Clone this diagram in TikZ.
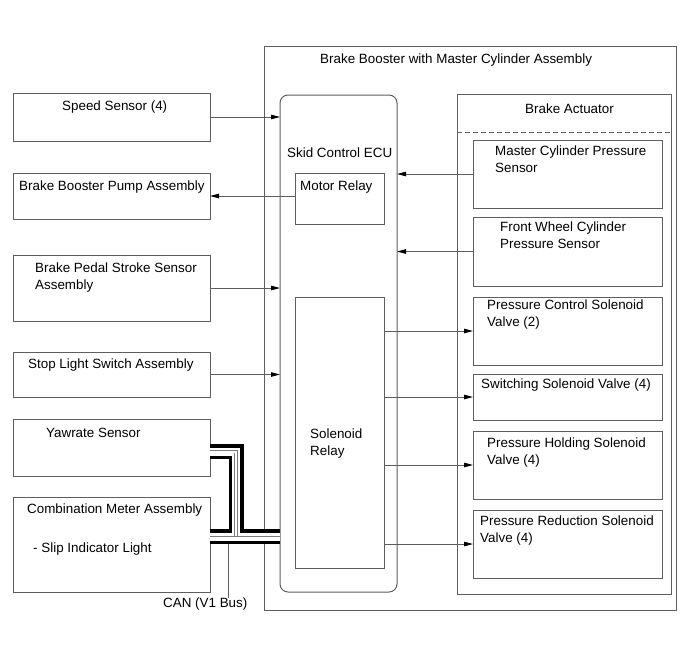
\documentclass[tikz,border=0pt]{standalone}
\usepackage{fontspec}
\setmainfont{Liberation Sans}
\usetikzlibrary{arrows.meta}
\definecolor{wdline}{HTML}{5E5E5E}
\definecolor{wdwire}{HTML}{7A7A7A}
\tikzset{
  unit/.style={draw=wdline,line width=1pt,anchor=north west,inner sep=0pt,outer sep=0pt},
  ecu/.style={unit,rounded corners=8pt},
  note/.style={anchor=north west,inner sep=0pt,align=left,font=\fontsize{13.4}{16.5}\selectfont,text=black},
  sig/.style={-{Triangle[length=9pt,width=4.5pt,color=black]},draw=wdline,line width=.9pt},
  canbk/.style={draw=black,line width=15pt,line join=miter},
  canwt/.style={draw=white,line width=8pt,line join=miter},
  canmid/.style={draw=wdwire,line width=.8pt},
  cantwin/.style={draw=wdwire,line width=.7pt,double=white,double distance=2pt,line join=miter},
}

\begin{document}
\begin{tikzpicture}[x=1pt,y=-1pt]
  \useasboundingbox (0,0) rectangle (690,659);

  % ---- brake booster housing ----
  \node[unit,minimum width=412pt,minimum height=564pt] (bbmc) at (264,46) {};
  \node[note] (bbmctxt) at (320,54) {Brake Booster with Master Cylinder Assembly};

  % ---- skid control ECU ----
  \node[ecu,minimum width=117pt,minimum height=497pt] (ecu) at (280,95) {};
  \node[note] (ecutxt) at (287,148) {Skid Control ECU};
  \node[unit,minimum width=89pt,minimum height=51pt] (motor) at (295,173) {};
  \node[note] (motortxt) at (300,181) {Motor Relay};
  \node[unit,minimum width=89pt,minimum height=271pt] (solrel) at (295,297) {};
  \node[note] (solreltxt) at (310,429) {Solenoid\\Relay};

  % ---- brake actuator ----
  \node[unit,minimum width=214pt,minimum height=500pt] (act) at (457,94) {};
  \node[note] (acttxt) at (525,104) {Brake Actuator};
  \draw[wdline,line width=1pt,dash pattern=on 5pt off 3pt]
    ([yshift=-38pt]act.north west) -- ([yshift=-38pt]act.north east);
  \foreach \n/\y/\h in {mcps/140/68, fwcps/217/69, pcsv/297/68, ssv/374/46, phsv/431/68, prsv/510/68}
    \node[unit,minimum width=189pt,minimum height=\h pt] (\n) at (473,\y) {};
  \node[note] (mcpstxt) at (495,146) {Master Cylinder Pressure\\Sensor};
  \node[note] (fwcpstxt) at (500,222) {Front Wheel Cylinder\\Pressure Sensor};
  \node[note] (pcsvtxt) at (487,300) {Pressure Control Solenoid\\Valve (2)};
  \node[note] (ssvtxt) at (481,379) {Switching Solenoid Valve (4)};
  \node[note] (phsvtxt) at (487,438) {Pressure Holding Solenoid\\Valve (4)};
  \node[note] (prsvtxt) at (480,516) {Pressure Reduction Solenoid\\Valve (4)};

  % ---- outside units ----
  \foreach \n/\y/\h in {speed/93/48, pump/173/46, pedal/255/66, stop/352/45, yaw/419/57, meter/497/95}
    \node[unit,minimum width=197pt,minimum height=\h pt] (\n) at (13,\y) {};
  \node[note] (speedtxt) at (62,101) {Speed Sensor (4)};
  \node[note] (pumptxt) at (19,181) {Brake Booster Pump Assembly};
  \node[note] (pedaltxt) at (35,263) {Brake Pedal Stroke Sensor\\Assembly};
  \node[note] (stoptxt) at (28,359) {Stop Light Switch Assembly};
  \node[note] (yawtxt) at (46,428) {Yawrate Sensor};
  \node[note] (metertxt) at (27,504) {Combination Meter Assembly};
  \node[note] (sliptxt) at (33,543) {- Slip Indicator Light};

  % ---- signals ----
  \draw[sig] (speed.east) -- (speed.east -| ecu.west);
  \draw[sig] (motor.west |- pump.east) -- (pump.east);
  \draw[sig] (pedal.east) -- (pedal.east -| ecu.west);
  \draw[sig] (stop.east) -- (stop.east -| ecu.west);
  \foreach \n in {mcps,fwcps}
    \draw[sig] (\n.west) -- (\n.west -| ecu.east);
  \foreach \n in {pcsv,ssv,phsv,prsv}
    \draw[sig] (\n.west -| solrel.east) -- (\n.west);

  % ---- CAN bus ----
  \coordinate (canL) at (210,536.5);
  \coordinate (canR) at (280,536.5);
  \coordinate (yawL) at (210,451.5);
  \coordinate (yawK) at (236,451.5);
  \coordinate (canT) at (236,536.5);
  \draw[canbk] (canL) -- (canR);
  \draw[canbk] (yawL) -- (yawK) -- (canT);
  \draw[canwt] (canL) -- (canR);
  \draw[canwt] (yawL) -- (yawK) -- (canT);
  \draw[cantwin] (yawL) -- (yawK) -- (canT);
  \draw[canmid] (canL) -- (canR);
  \node[note] (canlbl) at (163,598) {CAN (V1 Bus)};
  \coordinate (cantap) at (228,544);
  \draw[wdline,line width=.9pt] (cantap) -- (cantap |- canlbl.north);
\end{tikzpicture}
\end{document}
